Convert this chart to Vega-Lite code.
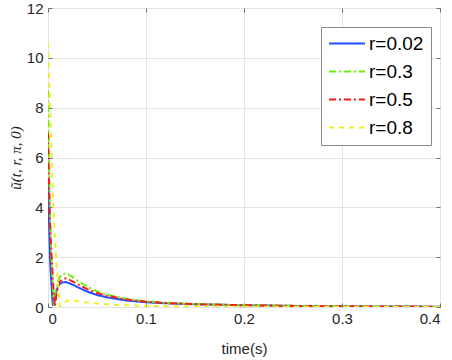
{
  "$schema": "https://vega.github.io/schema/vega-lite/v6.json",
  "width": 392,
  "height": 299,
  "autosize": {"type": "none"},
  "padding": {"left": 48, "top": 8, "right": 12, "bottom": 53},
  "background": "white",
  "config": {
    "view": {"stroke": "#6f6f6f", "strokeWidth": 1},
    "font": "Liberation Sans",
    "axis": {
      "labelFont": "Liberation Sans",
      "labelFontSize": 14,
      "labelColor": "#262626",
      "tickColor": "#6f6f6f",
      "domain": false,
      "gridColor": "#e3e3e3",
      "gridWidth": 1
    }
  },
  "data": {
    "values": [
      {"r": "r=0.02", "t": 0, "u": 5.1},
      {"r": "r=0.02", "t": 0.001, "u": 3.5},
      {"r": "r=0.02", "t": 0.002, "u": 2.0},
      {"r": "r=0.02", "t": 0.003, "u": 1.2},
      {"r": "r=0.02", "t": 0.004, "u": 0.6},
      {"r": "r=0.02", "t": 0.005, "u": 0.05},
      {"r": "r=0.02", "t": 0.006, "u": 0.15},
      {"r": "r=0.02", "t": 0.007, "u": 0.35},
      {"r": "r=0.02", "t": 0.008, "u": 0.55},
      {"r": "r=0.02", "t": 0.01, "u": 0.8},
      {"r": "r=0.02", "t": 0.012, "u": 0.92},
      {"r": "r=0.02", "t": 0.015, "u": 0.99},
      {"r": "r=0.02", "t": 0.018, "u": 1.0},
      {"r": "r=0.02", "t": 0.02, "u": 0.98},
      {"r": "r=0.02", "t": 0.025, "u": 0.9},
      {"r": "r=0.02", "t": 0.03, "u": 0.8},
      {"r": "r=0.02", "t": 0.04, "u": 0.62},
      {"r": "r=0.02", "t": 0.05, "u": 0.48},
      {"r": "r=0.02", "t": 0.06, "u": 0.39},
      {"r": "r=0.02", "t": 0.08, "u": 0.26},
      {"r": "r=0.02", "t": 0.1, "u": 0.19},
      {"r": "r=0.02", "t": 0.12, "u": 0.15},
      {"r": "r=0.02", "t": 0.15, "u": 0.11},
      {"r": "r=0.02", "t": 0.2, "u": 0.07},
      {"r": "r=0.02", "t": 0.25, "u": 0.045},
      {"r": "r=0.02", "t": 0.3, "u": 0.03},
      {"r": "r=0.02", "t": 0.35, "u": 0.02},
      {"r": "r=0.02", "t": 0.4, "u": 0.012},

      {"r": "r=0.3", "t": 0, "u": 8.7},
      {"r": "r=0.3", "t": 0.001, "u": 6.0},
      {"r": "r=0.3", "t": 0.002, "u": 3.9},
      {"r": "r=0.3", "t": 0.003, "u": 2.5},
      {"r": "r=0.3", "t": 0.004, "u": 1.5},
      {"r": "r=0.3", "t": 0.005, "u": 0.7},
      {"r": "r=0.3", "t": 0.006, "u": 0.05},
      {"r": "r=0.3", "t": 0.007, "u": 0.4},
      {"r": "r=0.3", "t": 0.008, "u": 0.7},
      {"r": "r=0.3", "t": 0.01, "u": 1.0},
      {"r": "r=0.3", "t": 0.012, "u": 1.2},
      {"r": "r=0.3", "t": 0.015, "u": 1.32},
      {"r": "r=0.3", "t": 0.018, "u": 1.35},
      {"r": "r=0.3", "t": 0.02, "u": 1.33},
      {"r": "r=0.3", "t": 0.025, "u": 1.2},
      {"r": "r=0.3", "t": 0.03, "u": 1.06},
      {"r": "r=0.3", "t": 0.04, "u": 0.82},
      {"r": "r=0.3", "t": 0.05, "u": 0.63},
      {"r": "r=0.3", "t": 0.06, "u": 0.5},
      {"r": "r=0.3", "t": 0.08, "u": 0.33},
      {"r": "r=0.3", "t": 0.1, "u": 0.23},
      {"r": "r=0.3", "t": 0.12, "u": 0.17},
      {"r": "r=0.3", "t": 0.15, "u": 0.12},
      {"r": "r=0.3", "t": 0.2, "u": 0.075},
      {"r": "r=0.3", "t": 0.25, "u": 0.05},
      {"r": "r=0.3", "t": 0.3, "u": 0.033},
      {"r": "r=0.3", "t": 0.35, "u": 0.022},
      {"r": "r=0.3", "t": 0.4, "u": 0.014},

      {"r": "r=0.5", "t": 0, "u": 7.0},
      {"r": "r=0.5", "t": 0.001, "u": 5.0},
      {"r": "r=0.5", "t": 0.002, "u": 3.5},
      {"r": "r=0.5", "t": 0.003, "u": 2.5},
      {"r": "r=0.5", "t": 0.004, "u": 1.8},
      {"r": "r=0.5", "t": 0.005, "u": 1.1},
      {"r": "r=0.5", "t": 0.006, "u": 0.5},
      {"r": "r=0.5", "t": 0.007, "u": 0.02},
      {"r": "r=0.5", "t": 0.008, "u": 0.3},
      {"r": "r=0.5", "t": 0.009, "u": 0.6},
      {"r": "r=0.5", "t": 0.01, "u": 0.8},
      {"r": "r=0.5", "t": 0.012, "u": 1.0},
      {"r": "r=0.5", "t": 0.015, "u": 1.12},
      {"r": "r=0.5", "t": 0.018, "u": 1.15},
      {"r": "r=0.5", "t": 0.02, "u": 1.13},
      {"r": "r=0.5", "t": 0.025, "u": 1.03},
      {"r": "r=0.5", "t": 0.03, "u": 0.92},
      {"r": "r=0.5", "t": 0.04, "u": 0.72},
      {"r": "r=0.5", "t": 0.05, "u": 0.56},
      {"r": "r=0.5", "t": 0.06, "u": 0.45},
      {"r": "r=0.5", "t": 0.08, "u": 0.3},
      {"r": "r=0.5", "t": 0.1, "u": 0.21},
      {"r": "r=0.5", "t": 0.12, "u": 0.16},
      {"r": "r=0.5", "t": 0.15, "u": 0.115},
      {"r": "r=0.5", "t": 0.2, "u": 0.07},
      {"r": "r=0.5", "t": 0.25, "u": 0.045},
      {"r": "r=0.5", "t": 0.3, "u": 0.03},
      {"r": "r=0.5", "t": 0.35, "u": 0.02},
      {"r": "r=0.5", "t": 0.4, "u": 0.012},

      {"r": "r=0.8", "t": 0, "u": 10.6},
      {"r": "r=0.8", "t": 0.001, "u": 9.4},
      {"r": "r=0.8", "t": 0.002, "u": 8.2},
      {"r": "r=0.8", "t": 0.003, "u": 6.9},
      {"r": "r=0.8", "t": 0.004, "u": 5.7},
      {"r": "r=0.8", "t": 0.005, "u": 4.6},
      {"r": "r=0.8", "t": 0.006, "u": 3.7},
      {"r": "r=0.8", "t": 0.007, "u": 2.8},
      {"r": "r=0.8", "t": 0.008, "u": 2.1},
      {"r": "r=0.8", "t": 0.009, "u": 1.6},
      {"r": "r=0.8", "t": 0.01, "u": 1.1},
      {"r": "r=0.8", "t": 0.011, "u": 0.5},
      {"r": "r=0.8", "t": 0.012, "u": 0.05},
      {"r": "r=0.8", "t": 0.013, "u": 0.03},
      {"r": "r=0.8", "t": 0.015, "u": 0.12},
      {"r": "r=0.8", "t": 0.018, "u": 0.22},
      {"r": "r=0.8", "t": 0.021, "u": 0.27},
      {"r": "r=0.8", "t": 0.025, "u": 0.26},
      {"r": "r=0.8", "t": 0.03, "u": 0.23},
      {"r": "r=0.8", "t": 0.04, "u": 0.18},
      {"r": "r=0.8", "t": 0.05, "u": 0.14},
      {"r": "r=0.8", "t": 0.06, "u": 0.11},
      {"r": "r=0.8", "t": 0.08, "u": 0.07},
      {"r": "r=0.8", "t": 0.1, "u": 0.045},
      {"r": "r=0.8", "t": 0.12, "u": 0.03},
      {"r": "r=0.8", "t": 0.15, "u": 0.02},
      {"r": "r=0.8", "t": 0.2, "u": 0.012},
      {"r": "r=0.8", "t": 0.3, "u": 0.006},
      {"r": "r=0.8", "t": 0.4, "u": 0.004}
    ]
  },
  "layer": [
    {
      "mark": {"type": "line", "strokeWidth": 2, "clip": true},
      "encoding": {
        "x": {
          "field": "t", "type": "quantitative",
          "scale": {"domain": [0, 0.4], "nice": false, "zero": false},
          "axis": {
            "values": [0, 0.1, 0.2, 0.3, 0.4],
            "format": "~g",
            "tickSize": -4,
            "labelPadding": 8,
            "labelFontSize": 15,
            "title": "time(s)",
            "titleFont": "Liberation Sans",
            "titleFontSize": 15,
            "titleFontWeight": "normal",
            "titleColor": "#262626",
            "titlePadding": 15
          }
        },
        "y": {
          "field": "u", "type": "quantitative",
          "scale": {"domain": [0, 12], "nice": false},
          "axis": {
            "values": [0, 2, 4, 6, 8, 10, 12],
            "tickSize": -4,
            "labelPadding": 9,
            "labelFontSize": 15,
            "title": "ũ(t, r, π, 0)",
            "titleFont": "Liberation Serif",
            "titleFontStyle": "italic",
            "titleFontSize": 15,
            "titleFontWeight": "normal",
            "titleColor": "#262626",
            "titleAngle": -90,
            "titleX": -33,
            "titleBaseline": "middle"
          }
        },
        "color": {
          "field": "r", "type": "nominal",
          "scale": {
            "domain": ["r=0.02", "r=0.3", "r=0.5", "r=0.8"],
            "range": ["#1f4fff", "#6cf000", "#ff1a1a", "#eeee22"]
          },
          "legend": {
            "title": null,
            "orient": "none",
            "legendX": 273,
            "legendY": 19,
            "symbolType": "stroke",
            "symbolSize": 1296,
            "symbolStrokeWidth": 2,
            "labelFont": "Liberation Sans",
            "labelFontSize": 19,
            "labelColor": "#000000",
            "labelOffset": 3,
            "fillColor": "#ffffff",
            "strokeColor": "#8a8a8a",
            "padding": 7,
            "rowPadding": 8,
            "clipHeight": 19
          }
        },
        "strokeDash": {
          "field": "r", "type": "nominal",
          "scale": {
            "domain": ["r=0.02", "r=0.3", "r=0.5", "r=0.8"],
            "range": [[1, 0], [7, 3, 2, 3], [7, 3, 2, 3], [5, 5]]
          },
          "legend": null
        }
      }
    },
    {
      "mark": {"type": "point", "opacity": 0},
      "encoding": {
        "x": {
          "field": "t", "type": "quantitative",
          "scale": {"domain": [0, 0.4], "nice": false, "zero": false},
          "axis": {"orient": "top", "values": [0, 0.1, 0.2, 0.3, 0.4], "labels": false, "grid": false, "tickSize": -4, "title": null}
        },
        "y": {
          "field": "u", "type": "quantitative",
          "scale": {"domain": [0, 12], "nice": false},
          "axis": {"orient": "right", "values": [0, 2, 4, 6, 8, 10, 12], "labels": false, "grid": false, "tickSize": -4, "title": null}
        }
      }
    }
  ],
  "resolve": {"axis": {"x": "independent", "y": "independent"}}
}
